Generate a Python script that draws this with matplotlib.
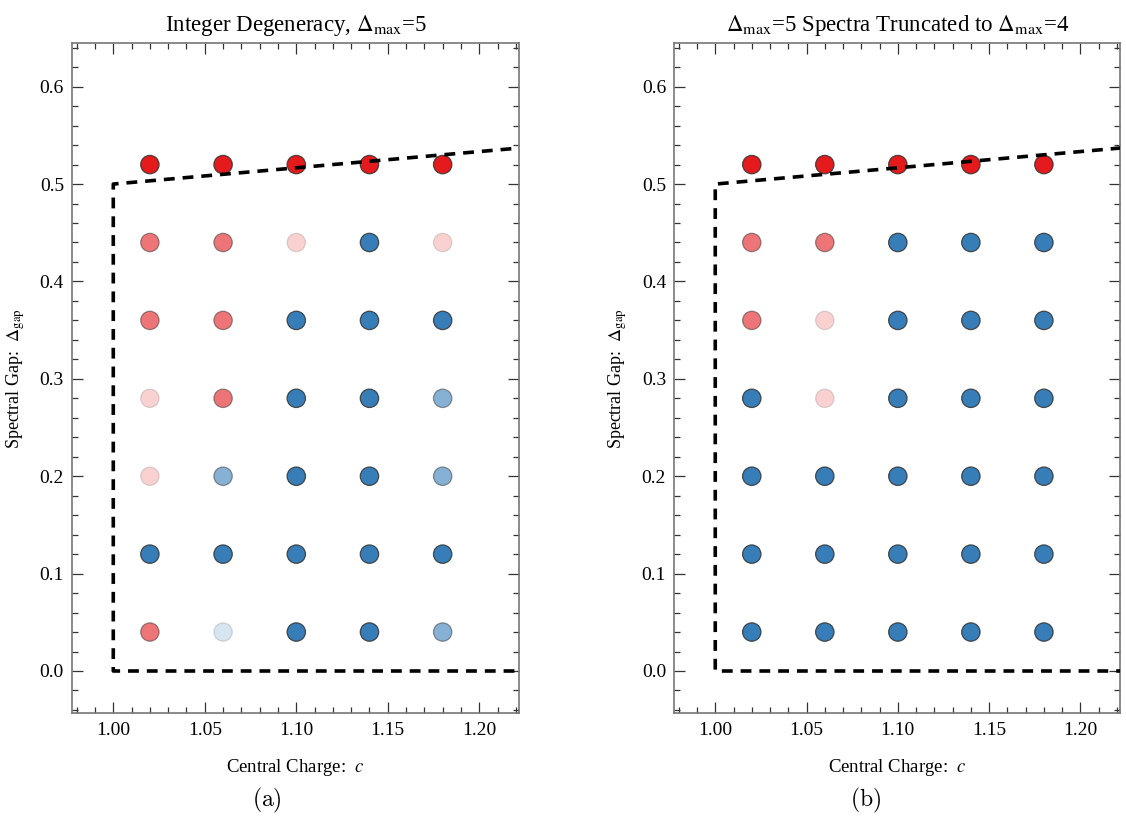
import matplotlib
matplotlib.use('Agg')
import matplotlib.pyplot as plt
from matplotlib.ticker import MultipleLocator
import numpy as np

plt.rcParams['font.family'] = ['Liberation Serif', 'DejaVu Serif']
plt.rcParams['mathtext.fontset'] = 'stix'

# grid of sampled points
c_vals = [1.02, 1.06, 1.10, 1.14, 1.18]
gap_vals = [0.04, 0.12, 0.20, 0.28, 0.36, 0.44, 0.52]

# sign: + allowed (blue), - excluded (red); magnitude = confidence (opacity)
# rows go from gap 0.04 (first) up to 0.52 (last)
score_a = [
    [-0.6, 0.2, 1.0, 1.0, 0.6],
    [1.0, 1.0, 1.0, 1.0, 1.0],
    [-0.2, 0.6, 1.0, 1.0, 0.6],
    [-0.2, -0.6, 1.0, 1.0, 0.6],
    [-0.6, -0.6, 1.0, 1.0, 1.0],
    [-0.6, -0.6, -0.2, 1.0, -0.2],
    [-1.0, -1.0, -1.0, -1.0, -1.0],
]
score_b = [
    [1.0, 1.0, 1.0, 1.0, 1.0],
    [1.0, 1.0, 1.0, 1.0, 1.0],
    [1.0, 1.0, 1.0, 1.0, 1.0],
    [1.0, -0.2, 1.0, 1.0, 1.0],
    [-0.6, -0.2, 1.0, 1.0, 1.0],
    [-0.6, -0.6, 1.0, 1.0, 1.0],
    [-1.0, -1.0, -1.0, -1.0, -1.0],
]

# bound drawn as dashed line
bound_c = [1.25, 1.0, 1.0, 1.25]
bound_gap = [0.0, 0.0, 0.5, 0.5417]

titles = [r'Integer Degeneracy, $\Delta_{\rm max}$=5',
          r'$\Delta_{\rm max}$=5 Spectra Truncated to $\Delta_{\rm max}$=4']
tags = [r'$\mathrm{(a)}$', r'$\mathrm{(b)}$']

RED = np.array([228, 26, 28]) / 255
BLUE = np.array([55, 126, 184]) / 255
EDGE = np.array([0.2, 0.2, 0.2])

fig = plt.figure(figsize=(11.26, 8.16), dpi=100)
ax_pos = [[0.0642, 0.1259, 0.3967, 0.8210],
          [0.5989, 0.1259, 0.3958, 0.8210]]
tag_x = [267 / 1126, 866 / 1126]

for k, score in enumerate([score_a, score_b]):
    ax = fig.add_axes(ax_pos[k])
    cc, gg = np.meshgrid(c_vals, gap_vals)
    s = np.array(score)
    face = np.zeros((s.size, 4))
    edge = np.zeros((s.size, 4))
    for i, v in enumerate(s.ravel()):
        base = BLUE if v > 0 else RED
        face[i, :3] = base
        face[i, 3] = abs(v)
        edge[i, :3] = EDGE
        edge[i, 3] = abs(v) * 0.85
    ax.scatter(cc.ravel(), gg.ravel(), s=175, c=face, edgecolors=edge,
               linewidths=0.9, zorder=2)
    ax.plot(bound_c, bound_gap, color='black', lw=2.6, dashes=(3.0, 2.2),
            zorder=3, dash_capstyle='butt')

    ax.set_xlim(0.9776, 1.2217)
    ax.set_ylim(-0.0434, 0.6445)
    ax.xaxis.set_major_locator(MultipleLocator(0.05))
    ax.xaxis.set_minor_locator(MultipleLocator(0.01))
    ax.yaxis.set_major_locator(MultipleLocator(0.1))
    ax.yaxis.set_minor_locator(MultipleLocator(0.02))
    ax.xaxis.set_major_formatter(matplotlib.ticker.FormatStrFormatter('%.2f'))
    ax.yaxis.set_major_formatter(matplotlib.ticker.FormatStrFormatter('%.1f'))
    ax.tick_params(which='both', direction='in', top=True, right=True,
                   color='#333333', labelsize=14, width=0.9)
    ax.tick_params(which='major', length=8, pad=6)
    ax.tick_params(which='minor', length=4)
    for sp in ax.spines.values():
        sp.set_color('#777777')
        sp.set_linewidth(1.2)

    ax.set_xlabel(r'Central Charge:  $c$', fontsize=13.5, labelpad=13)
    ax.set_ylabel(r'Spectral Gap:  $\Delta_{\rm gap}$', fontsize=13, labelpad=9)
    ax.set_title(titles[k], fontsize=16.5, pad=9)

    fig.text(tag_x[k], 1 - 800 / 816, tags[k], ha='center', va='center',
             fontsize=17, math_fontfamily='cm')

fig.savefig('out.png', dpi=100)
